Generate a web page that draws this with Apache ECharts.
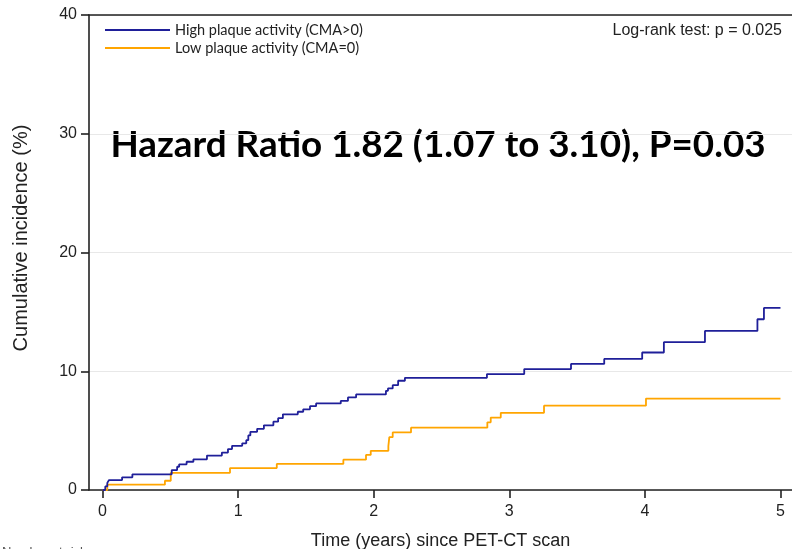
<!DOCTYPE html>
<html>
<head>
<meta charset="utf-8">
<script src="https://cdn.jsdelivr.net/npm/echarts@6/dist/echarts.min.js"></script>
<style>
html,body{margin:0;padding:0;background:#fff;overflow:hidden;}
#chart{width:792px;height:549px;}
</style>
</head>
<body>
<div id="chart"></div>
<script>
// ---- data ----
var seriesNames = ['High plaque activity (CMA>0)', 'Low plaque activity (CMA=0)'];
var highTime  = [0, 0.02, 0.035, 0.048, 0.144, 0.22, 0.51, 0.55, 0.565, 0.62, 0.67, 0.77, 0.88, 0.925, 0.955, 1.03, 1.06, 1.075, 1.09, 1.14, 1.19, 1.26, 1.295, 1.33, 1.44, 1.48, 1.53, 1.575, 1.757, 1.81, 1.87, 2.09, 2.105, 2.14, 2.18, 2.23, 2.835, 3.11, 3.455, 3.70, 3.98, 4.14, 4.443, 4.83, 4.878, 5.0];
var highValue = [0, 0.3, 0.6, 0.84, 1.07, 1.32, 1.68, 1.96, 2.16, 2.38, 2.58, 2.9, 3.15, 3.45, 3.72, 3.93, 4.2, 4.6, 4.9, 5.15, 5.45, 5.75, 6.05, 6.37, 6.59, 6.79, 7.06, 7.29, 7.5, 7.8, 8.05, 8.35, 8.55, 8.83, 9.2, 9.45, 9.76, 10.18, 10.62, 11.04, 11.58, 12.45, 13.4, 14.38, 15.33, 15.33];
var lowTime   = [0, 0.035, 0.46, 0.503, 0.94, 1.285, 1.776, 1.943, 1.978, 2.108, 2.115, 2.14, 2.275, 2.838, 2.863, 2.937, 3.256, 4.008, 5.0];
var lowValue  = [0, 0.45, 0.78, 1.45, 1.85, 2.2, 2.55, 2.95, 3.3, 3.7, 4.45, 4.85, 5.25, 5.7, 6.1, 6.5, 7.1, 7.7, 7.7];
var xTicks = [0, 1, 2, 3, 4, 5];
var yTicks = [0, 10, 20, 30, 40];
var xTitle = 'Time (years) since PET-CT scan';
var yTitle = 'Cumulative incidence (%)';
var mainTitle = 'Hazard Ratio 1.82 (1.07 to 3.10), P=0.03';
var testText = 'Log-rank test: p = 0.025';
var riskText = 'Number at risk';

function zip(a, b) { return a.map(function (v, i) { return [v, b[i]]; }); }

var axisColor = '#222';
var tickFont = { fontFamily: 'Liberation Sans', fontSize: 16, color: '#222' };

var chart = echarts.init(document.getElementById('chart'), null, { renderer: 'canvas', width: 792, height: 549 });
chart.setOption({
  animation: false,
  backgroundColor: '#fff',
  grid: { left: 89, top: 15, width: 703, height: 475, containLabel: false, outerBoundsMode: 'none' },
  legend: {
    orient: 'vertical', left: 105, top: 22, padding: 0,
    icon: 'rect', itemWidth: 65, itemHeight: 2, itemGap: 2,
    textStyle: { fontFamily: 'Lato', fontSize: 14.5, color: '#222', lineHeight: 16 },
    data: seriesNames
  },
  xAxis: [{
    type: 'value', min: -0.1, max: 5.085,
    axisLine: { show: true, onZero: false, lineStyle: { color: axisColor, width: 1.6 } },
    axisTick: { show: true, customValues: xTicks, length: 8, lineStyle: { color: axisColor, width: 1.6 } },
    axisLabel: Object.assign({ customValues: xTicks, margin: 14 }, tickFont),
    splitLine: { show: false },
    name: xTitle, nameLocation: 'middle', nameGap: 42,
    nameTextStyle: { fontFamily: 'Liberation Sans', fontSize: 18, color: '#222' }
  }, {
    type: 'value', position: 'top', min: -0.1, max: 5.085,
    axisLine: { show: true, onZero: false, lineStyle: { color: axisColor, width: 1.6 } },
    axisTick: { show: false }, axisLabel: { show: false }, splitLine: { show: false }
  }],
  yAxis: {
    type: 'value', min: 0, max: 40, interval: 10,
    axisLine: { show: true, onZero: false, lineStyle: { color: axisColor, width: 1.6 } },
    axisTick: { show: true, length: 8, lineStyle: { color: axisColor, width: 1.6 } },
    axisLabel: Object.assign({ margin: 12 }, tickFont),
    splitLine: { show: true, lineStyle: { color: '#e8e8e8', width: 1.2 } }
  },
  graphic: [
    { type: 'text', x: 21, y: 238, rotation: Math.PI / 2,
      style: { text: yTitle, fontFamily: 'Liberation Sans', fontSize: 20, fill: '#222', textAlign: 'center', textVerticalAlign: 'middle' } },
    { type: 'text', x: 782, y: 31,
      style: { text: testText, fontFamily: 'Liberation Sans', fontSize: 16, fill: '#222', textAlign: 'right', textVerticalAlign: 'middle' } },
    { type: 'text', x: 438, y: 145,
      style: { text: mainTitle, fontFamily: 'Lato', fontWeight: 'bold', fontSize: 36.8, fill: '#000', textAlign: 'center', textVerticalAlign: 'middle' } },
    { type: 'text', x: 2, y: 546,
      style: { text: riskText, fontFamily: 'Liberation Sans', fontSize: 13, fill: '#555', textAlign: 'left', textVerticalAlign: 'top' } }
  ],
  series: [{
    name: seriesNames[0], type: 'line', step: 'end', xAxisIndex: 0,
    data: zip(highTime, highValue), showSymbol: false, symbol: 'none',
    lineStyle: { color: '#1f1f99', width: 1.8 }, itemStyle: { color: '#1f1f99' }, z: 3
  }, {
    name: seriesNames[1], type: 'line', step: 'end', xAxisIndex: 0,
    data: zip(lowTime, lowValue), showSymbol: false, symbol: 'none',
    lineStyle: { color: '#ffa500', width: 1.8 }, itemStyle: { color: '#ffa500' }, z: 2
  }]
});
</script>
</body>
</html>
